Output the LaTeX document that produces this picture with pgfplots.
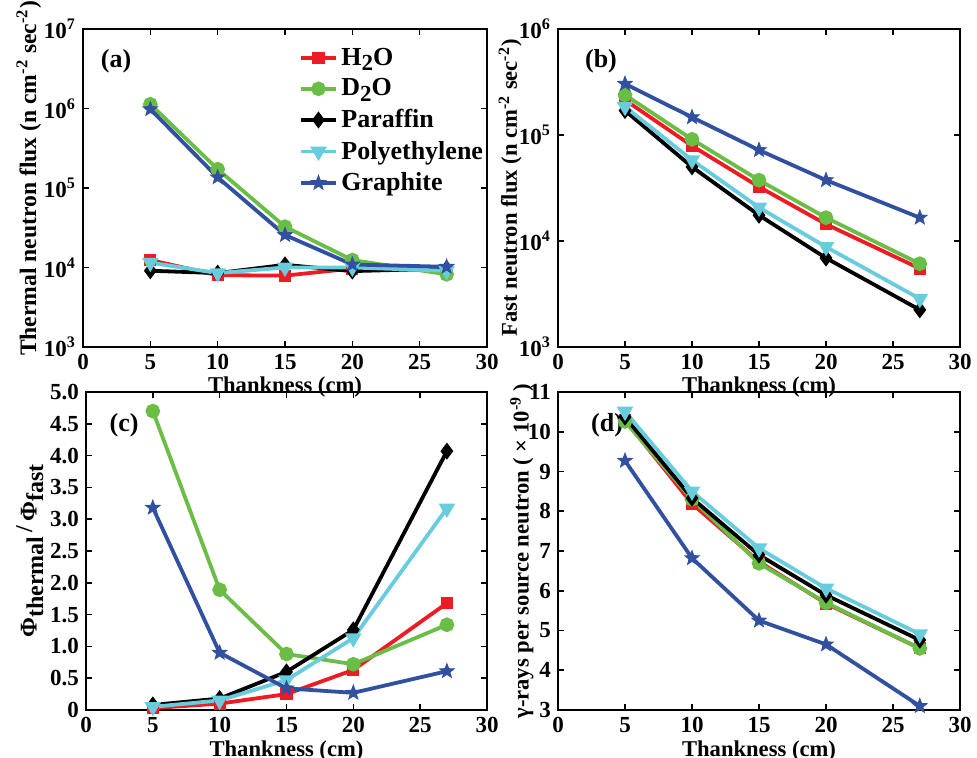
\documentclass[border=0pt]{standalone}
\usepackage{pgfplots}
\pgfplotsset{compat=1.18}
\usepackage{fontspec}
\setmainfont{Liberation Serif}

\definecolor{cH}{RGB}{237,28,36}
\definecolor{cD}{RGB}{106,190,69}
\definecolor{cP}{RGB}{0,0,0}
\definecolor{cE}{RGB}{104,204,221}
\definecolor{cG}{RGB}{50,80,160}

% filled five-point star
\pgfdeclareplotmark{pstar}{%
  \pgfpathmoveto{\pgfpointpolar{90}{\pgfplotmarksize}}%
  \pgfpathlineto{\pgfpointpolar{126}{0.42\pgfplotmarksize}}%
  \pgfpathlineto{\pgfpointpolar{162}{\pgfplotmarksize}}%
  \pgfpathlineto{\pgfpointpolar{198}{0.42\pgfplotmarksize}}%
  \pgfpathlineto{\pgfpointpolar{234}{\pgfplotmarksize}}%
  \pgfpathlineto{\pgfpointpolar{270}{0.42\pgfplotmarksize}}%
  \pgfpathlineto{\pgfpointpolar{306}{\pgfplotmarksize}}%
  \pgfpathlineto{\pgfpointpolar{342}{0.42\pgfplotmarksize}}%
  \pgfpathlineto{\pgfpointpolar{18}{\pgfplotmarksize}}%
  \pgfpathlineto{\pgfpointpolar{54}{0.42\pgfplotmarksize}}%
  \pgfpathclose\pgfusepathqfillstroke}

\newcommand{\sub}[1]{\raisebox{-0.45ex}{\fontsize{11.5}{12}\selectfont #1}}

\pgfplotsset{
  panel/.style={
    scale only axis, width=201pt, height=159pt,
    xmin=0, xmax=30, xtick={0,5,...,30},
    axis line style={line width=1.3pt},
    tick style={line width=0.8pt, black},
    major tick length=3pt, tick align=inside,
    ticklabel style={font=\bfseries\fontsize{11.5}{12}\selectfont},
    /pgf/number format/assume math mode=true,
    label style={font=\bfseries\fontsize{11.3}{12}\selectfont},
    xlabel={Thankness (cm)},
    xlabel style={yshift=3pt},
    clip=false,
    every axis plot/.append style={line width=1.9pt},
  },
  sH/.style={cH, mark=square*, mark size=2.1pt, mark options={solid, fill=cH}},
  sD/.style={cD, mark=*, mark size=2.7pt, mark options={solid, fill=cD}},
  sP/.style={cP, mark=diamond*, mark size=2.7pt, mark options={solid, fill=cP}},
  sE/.style={cE, mark=triangle*, mark size=2.9pt, mark options={solid, fill=cE, rotate=180}},
  sG/.style={cG, mark=pstar, mark size=3.7pt, mark options={solid, fill=cG, line width=0.5pt}},
}

\begin{document}
\begin{tikzpicture}[x=1pt,y=1pt]
\useasboundingbox (0,0) rectangle (488.5,379);

% (a) thermal neutron flux
\begin{axis}[panel, at={(41.5pt,205.5pt)}, anchor=south west, width=202pt,
  ymode=log, ymin=1e3, ymax=1e7,
  ytick={1e3,1e4,1e5,1e6,1e7},
  yticklabels={10\textsuperscript{3},10\textsuperscript{4},10\textsuperscript{5},10\textsuperscript{6},10\textsuperscript{7}},
  minor y tick style={draw=none},
  ylabel={Thermal neutron flux (n cm\textsuperscript{-2} sec\textsuperscript{-2})},
  ylabel style={at={(axis description cs:-0.134,0.53)}, anchor=center,
    font=\bfseries\fontsize{11.8}{12}\selectfont},
  legend style={at={(rel axis cs:0.53,0.96)}, anchor=north west, draw=none, fill=none,
    font=\bfseries\fontsize{13}{15}\selectfont, inner sep=1pt, row sep=1.2pt},
  legend cell align=left]
\addplot[sH] coordinates {(5,12400) (10,8000) (15,7900) (20,9700) (27,9300)};
\addplot[sD] coordinates {(5,1130000) (10,172000) (15,32600) (20,12400) (27,8200)};
\addplot[sP] coordinates {(5,9100) (10,8500) (15,10800) (20,9000) (27,9700)};
\addplot[sE] coordinates {(5,11500) (10,8500) (15,10000) (20,10000) (27,9100)};
\addplot[sG] coordinates {(5,980000) (10,136000) (15,25600) (20,10900) (27,10200)};
\legend{H\sub{2}O, D\sub{2}O, Paraffin, Polyethylene, Graphite}
\node[font=\bfseries\fontsize{13}{14}\selectfont] at (rel axis cs:0.082,0.90) {(a)};
\end{axis}

% (b) fast neutron flux
\begin{axis}[panel, at={(279pt,205.5pt)}, anchor=south west,
  ymode=log, ymin=1e3, ymax=1e6,
  ytick={1e3,1e4,1e5,1e6},
  yticklabels={10\textsuperscript{3},10\textsuperscript{4},10\textsuperscript{5},10\textsuperscript{6}},
  minor y tick style={draw=none},
  ylabel={Fast neutron flux (n cm\textsuperscript{-2} sec\textsuperscript{-2})},
  ylabel style={at={(axis description cs:-0.119,0.5)}, anchor=center}]
\addplot[sH] coordinates {(5,214000) (10,79000) (15,32400) (20,14400) (27,5500)};
\addplot[sD] coordinates {(5,239000) (10,91000) (15,37500) (20,16600) (27,6100)};
\addplot[sP] coordinates {(5,170000) (10,50000) (15,17500) (20,6900) (27,2240)};
\addplot[sE] coordinates {(5,185000) (10,58000) (15,20700) (20,8800) (27,2850)};
\addplot[sG] coordinates {(5,304000) (10,147000) (15,72000) (20,37500) (27,16600)};
\node[font=\bfseries\fontsize{13}{14}\selectfont] at (rel axis cs:0.107,0.90) {(b)};
\end{axis}

% (c) ratio
\begin{axis}[panel, at={(43pt,24pt)}, anchor=south west, width=200.5pt,
  ymin=0, ymax=5, ytick={0,0.5,...,5},
  yticklabels={0,0.5,1.0,1.5,2.0,2.5,3.0,3.5,4.0,4.5,5.0},
  ylabel={Φ\raisebox{-0.6ex}{thermal}\,\raisebox{0.4ex}{/}\,Φ\raisebox{-0.6ex}{fast}},
  ylabel style={at={(axis description cs:-0.14,0.5)}, anchor=center,
    font=\bfseries\fontsize{12}{13}\selectfont}]
\addplot[sH] coordinates {(5,0.03) (10,0.10) (15,0.25) (20,0.63) (27,1.68)};
\addplot[sD] coordinates {(5,4.70) (10,1.89) (15,0.88) (20,0.72) (27,1.34)};
\addplot[sP] coordinates {(5,0.08) (10,0.18) (15,0.60) (20,1.26) (27,4.07)};
\addplot[sE] coordinates {(5,0.05) (10,0.15) (15,0.47) (20,1.13) (27,3.17)};
\addplot[sG] coordinates {(5,3.18) (10,0.90) (15,0.34) (20,0.27) (27,0.61)};
\node[font=\bfseries\fontsize{13}{14}\selectfont] at (rel axis cs:0.095,0.896) {(c)};
\end{axis}

% (d) gamma rays
\begin{axis}[panel, at={(279pt,24pt)}, anchor=south west,
  ymin=3, ymax=11, ytick={3,4,...,11},
  ylabel={γ-rays per source neutron ( × 10\textsuperscript{-9} )},
  ylabel style={at={(axis description cs:-0.09,0.5)}, anchor=center}]
\addplot[sH] coordinates {(5,10.30) (10,8.19) (15,6.73) (20,5.68) (27,4.55)};
\addplot[sD] coordinates {(5,10.26) (10,8.30) (15,6.69) (20,5.70) (27,4.55)};
\addplot[sP] coordinates {(5,10.37) (10,8.33) (15,6.90) (20,5.89) (27,4.76)};
\addplot[sE] coordinates {(5,10.51) (10,8.50) (15,7.07) (20,6.06) (27,4.91)};
\addplot[sG] coordinates {(5,9.27) (10,6.82) (15,5.25) (20,4.65) (27,3.10)};
\node[font=\bfseries\fontsize{13}{14}\selectfont] at (rel axis cs:0.122,0.896) {(d)};
\end{axis}
\end{tikzpicture}
\end{document}
